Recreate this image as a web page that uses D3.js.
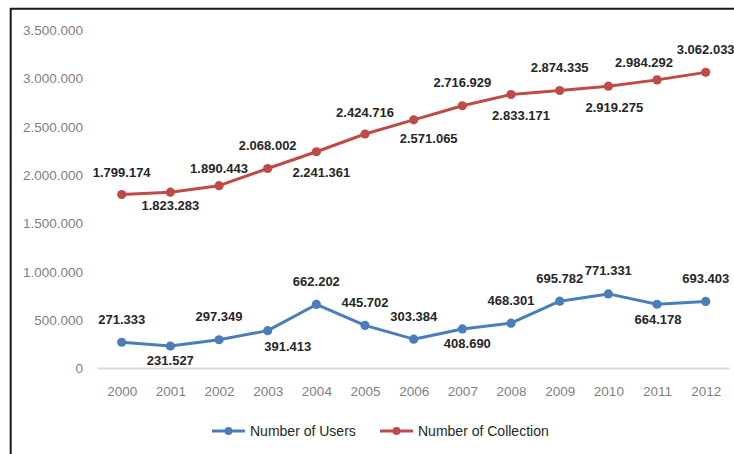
<!DOCTYPE html>
<html>
<head>
<meta charset="utf-8">
<script src="https://cdn.jsdelivr.net/npm/d3@7"></script>
<style>
  html, body { margin: 0; padding: 0; background: #fff; }
  svg { display: block; font-family: "Liberation Sans", Arial, sans-serif; }
</style>
</head>
<body>
<svg id="chart" width="734" height="454"></svg>
<script>
// ---- data ----
const years = ["2000","2001","2002","2003","2004","2005","2006","2007","2008","2009","2010","2011","2012"];
const users = [271333, 231527, 297349, 391413, 662202, 445702, 303384, 408690, 468301, 695782, 771331, 664178, 693403];
const collection = [1799174, 1823283, 1890443, 2068002, 2241361, 2424716, 2571065, 2716929, 2833171, 2874335, 2919275, 2984292, 3062033];
const yTicks = [0, 500000, 1000000, 1500000, 2000000, 2500000, 3000000, 3500000];
const seriesNames = ["Number of Users", "Number of Collection"];

// label placement (layout config): a = above, b = below, plus small nudges
const usersPlace = ["a","b","a","b","a","a","a","b","a","a","a","b","a"];
const usersNudgeX = [0,0,0,20,0,0,0,5,0,0,0,1,0];
const usersNudgeY = [0,0,0,2,0,0,0,0,0,0,0,1,0];
const collPlace = ["a","b","a","a","b","a","b","a","b","a","b","a","a"];
const collNudgeX = [0,0,0,0,5,0,15,0,10,0,6,-13,0];
const collNudgeY = [1,-1,6,0,7,1,5,0,7,0,7,6,0];

// ---- layout ----
const svg = d3.select("#chart");
const colors = ["#4A7EBB", "#BE4B48"];

const x = d3.scalePoint().domain(years).range([121.7, 705.7]);
const y = d3.scaleLinear().domain([0, 3500000]).range([368.5, 30]);
const fmt = v => d3.format(",")(v).replace(/,/g, ".");

// frame (cropped on right/bottom)
svg.append("path")
  .attr("d", "M10.7,460 V8.7 H740")
  .attr("fill", "none").attr("stroke", "#1a1a1a").attr("stroke-width", 2);

// y axis labels
const yAxis = d3.axisLeft(y).tickValues(yTicks).tickFormat(fmt).tickSize(0).tickPadding(0);
const gy = svg.append("g").attr("transform", "translate(83,0)").call(yAxis);
gy.select(".domain").remove();
gy.selectAll("text").attr("fill", "#7f7f7f").style("font-size", "13.5px")
  .style("font-family", "'Liberation Sans', Arial, sans-serif");

// baseline
svg.append("line")
  .attr("x1", 97.5).attr("x2", 729.5)
  .attr("y1", y(0)).attr("y2", y(0))
  .attr("stroke", "#d9d9d9").attr("stroke-width", 2);

// x axis labels
const xAxis = d3.axisBottom(x).tickSize(0).tickPadding(0);
const gx = svg.append("g").attr("transform", "translate(0,386)").call(xAxis);
gx.select(".domain").remove();
gx.selectAll("text").attr("fill", "#7f7f7f").style("font-size", "13.5px")
  .style("font-family", "'Liberation Sans', Arial, sans-serif");

// series
const series = [
  { values: users, place: usersPlace, nx: usersNudgeX, ny: usersNudgeY, color: colors[0] },
  { values: collection, place: collPlace, nx: collNudgeX, ny: collNudgeY, color: colors[1] }
];
const line = d3.line().x((d, i) => x(years[i])).y(d => y(d));

series.forEach(s => {
  const g = svg.append("g");
  g.append("path").datum(s.values)
    .attr("d", line).attr("fill", "none")
    .attr("stroke", s.color).attr("stroke-width", 3).attr("stroke-linejoin", "round");
  g.selectAll("circle").data(s.values).join("circle")
    .attr("cx", (d, i) => x(years[i])).attr("cy", d => y(d))
    .attr("r", 4.6).attr("fill", s.color);
  g.selectAll("text").data(s.values).join("text")
    .attr("x", (d, i) => x(years[i]) + s.nx[i])
    .attr("y", (d, i) => y(d) + (s.place[i] === "a" ? -23 : 14) + s.ny[i])
    .attr("dy", "0.35em")
    .attr("text-anchor", "middle")
    .attr("fill", "#262626")
    .style("font-size", "13px").style("font-weight", "bold")
    .text(d => fmt(d));
});

// legend
const legendItems = [
  { name: seriesNames[0], color: colors[0], x0: 212 },
  { name: seriesNames[1], color: colors[1], x0: 380 }
];
const ly = 431;
legendItems.forEach(it => {
  const g = svg.append("g");
  g.append("line").attr("x1", it.x0).attr("x2", it.x0 + 33)
    .attr("y1", ly).attr("y2", ly).attr("stroke", it.color).attr("stroke-width", 3);
  g.append("circle").attr("cx", it.x0 + 16.5).attr("cy", ly).attr("r", 4).attr("fill", it.color);
  g.append("text").attr("x", it.x0 + 38).attr("y", ly).attr("dy", "0.35em")
    .attr("fill", "#262626").style("font-size", "14px").text(it.name);
});
</script>
</body>
</html>
